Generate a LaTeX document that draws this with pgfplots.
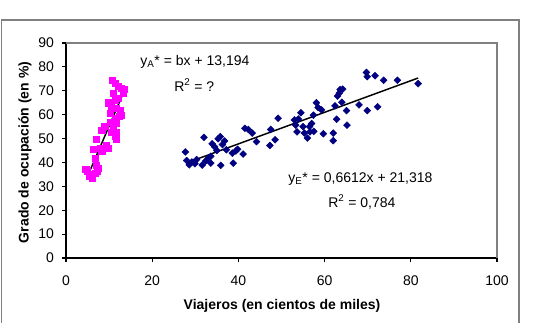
\documentclass[border=0pt]{standalone}
\usepackage{fontspec}
\setmainfont{Liberation Sans}
\usepackage{pgfplots}
\pgfplotsset{compat=1.18}
\definecolor{navy}{HTML}{000080}
\definecolor{mag}{HTML}{FF00FF}
\definecolor{framegray}{HTML}{808080}
\newcommand{\tf}{\fontsize{10.5}{12}\selectfont}
\begin{document}
\begin{tikzpicture}[x=0.75pt,y=0.75pt]
\useasboundingbox (0,0) rectangle (544,323);
\draw[framegray, line width=0.8pt] (1.5,-10) rectangle (519,303);
\begin{axis}[
  at={(49.5pt,48.75pt)}, anchor=south west,
  scale only axis, width=323.25pt, height=161.25pt,
  xmin=0, xmax=100, ymin=0, ymax=90,
  xtick={0,20,...,100}, ytick={0,10,...,90},
  axis x line*=bottom, axis y line*=left,
  axis line style={black, line width=0.8pt, -},
  tick align=outside, major tick length=3pt,
  tick style={black, line width=0.8pt},
  ticklabel style={font=\tf},
  xticklabel style={yshift=-7pt},
  yticklabel style={xshift=-2.5pt},
  /pgf/number format/assume math mode=true,
  clip=false,
]
\draw[framegray, line width=0.8pt] (rel axis cs:0,1) -- (rel axis cs:1,1) -- (rel axis cs:1,0);
% Series A (magenta squares)
\addplot[only marks, mark=square*, mark size=2.3pt, color=mag] coordinates {
(4.6,37.1) (4.9,36.2) (5.4,34.1) (6.0,33.4) (6.7,35.5) (7.5,37.6) (7.3,36.2)
(7.1,38.9) (6.7,41.7) (6.3,45.5) (7.0,49.7) (8.3,44.5) (8.3,53.5) (9.0,55.2)
(9.4,47.3) (9.8,45.9) (9.8,65.0) (10.2,60.5) (10.6,63.3) (10.8,74.4) (11.4,73.0)
(12.1,71.9) (12.9,70.9) (13.3,68.8) (13.4,70.5) (11.0,68.8) (11.4,66.1) (12.1,66.8)
(11.7,62.6) (12.4,59.4) (11.4,58.4) (11.7,56.3) (11.0,54.2) (11.6,52.4) (11.4,50.8)
(11.6,49.7) (10.6,52.8) (10.2,57.0) (12.5,61.9) (12.9,59.8) (5.8,35.0) (8.0,46.0)
};
% Series E (navy diamonds)
\addplot[only marks, mark=square*, mark size=1.8pt, mark options={rotate=45}, color=navy] coordinates {
(27.7,44.4) (28.0,40.8) (28.6,39.0) (29.2,40.2) (29.9,39.5) (30.3,41.2) (31.6,38.9)
(32.0,50.5) (32.4,40.6) (33.0,41.8) (33.6,39.7) (33.6,42.6) (33.9,47.8) (34.5,46.5)
(35.0,45.0) (35.3,49.9) (35.8,50.8) (35.9,38.8) (36.3,47.5) (36.8,49.0) (37.2,45.3)
(38.6,43.9) (38.8,39.7) (39.4,44.8) (39.8,45.5) (41.1,43.5) (41.5,54.3) (42.3,53.8)
(43.2,52.3) (44.2,48.7) (47.3,47.1) (47.5,53.8) (48.5,49.5) (49.2,58.5) (53.0,57.8)
(53.3,55.6) (53.6,52.8) (53.9,58.2) (54.5,60.8) (55.0,55.0) (55.3,52.3) (56.0,50.2)
(56.6,52.8) (57.0,56.3) (56.5,55.0) (57.4,59.8) (57.5,53.0) (58.1,65.0) (58.5,63.0)
(59.3,62.0) (59.7,52.0) (62.0,52.3) (62.0,49.1) (62.4,63.7) (62.8,58.1) (63.0,67.8)
(63.4,69.0) (63.6,70.5) (64.2,70.7) (64.0,65.2) (65.1,61.7) (65.2,55.6) (68.0,64.1)
(69.7,77.7) (69.9,75.9) (69.9,61.7) (71.7,76.3) (72.3,63.3) (73.7,74.4) (76.9,74.4)
(81.7,73.0)
};
% Trend lines
\addplot[black, line width=1.1pt] coordinates {(4.8,33.35) (13.7,70.73)};
\addplot[black, line width=1.1pt] coordinates {(28.5,40.16) (81.7,75.34)};
\end{axis}
\node[anchor=west, font=\tf, inner sep=0pt] at (140,261) {y\textsubscript{A}* = bx + 13,194};
\node[anchor=west, font=\tf, inner sep=0pt] at (174,238) {R\textsuperscript{2} = ?};
\node[anchor=west, font=\tf, inner sep=0pt] at (288,144) {y\textsubscript{E}* = 0,6612x + 21,318};
\node[anchor=west, font=\tf, inner sep=0pt] at (328,121) {R\textsuperscript{2} = 0,784};
\node[rotate=90, font=\bfseries\tf] at (25,170.5) {Grado de ocupación (en \%)};
\node[font=\bfseries\tf] at (282,17) {Viajeros (en cientos de miles)};
\end{tikzpicture}
\end{document}
